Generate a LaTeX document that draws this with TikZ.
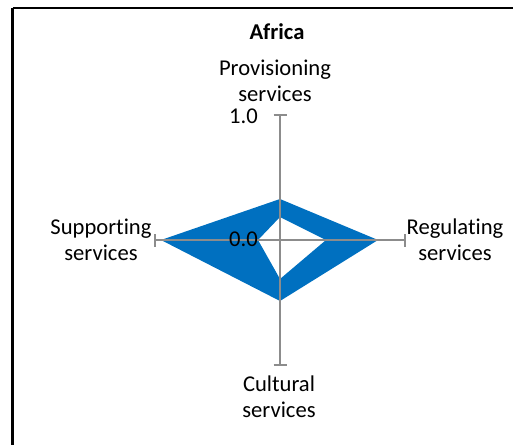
\documentclass[tikz,border=0pt]{standalone}
\usepackage{fontspec}
\setmainfont[Ligatures=NoCommon]{Carlito}
\definecolor{axisgray}{HTML}{8C8C8C}
\definecolor{seriesblue}{HTML}{0070C0}
\begin{document}
\begin{tikzpicture}[x=1pt,y=-1pt,
  lab/.style={font=\fontsize{22.6}{25.5}\selectfont, align=center, inner sep=0pt},
  axisline/.style={draw=axisgray, line width=1.6pt},
  frameline/.style={draw=black, line width=2.2pt}]
\useasboundingbox (0,0) rectangle (513,444);
\draw[frameline] (12.5,7.8) -- (530,7.8);
\draw[frameline] (12.5,7.8) -- (12.5,460);
% centre and axis ends
\coordinate (c) at (280,240);
\coordinate (pt) at (280,115);
\coordinate (pb) at (280,365);
\coordinate (pl) at (155,240);
\coordinate (pr) at (405,240);
% data series
\fill[seriesblue, even odd rule]
  (280,199) -- (378,240) -- (280,301) -- (161,240) -- cycle
  (280,217) -- (326,240) -- (280,279) -- (258,240) -- cycle;
% axes
\draw[axisline] (pt) -- (pb);
\draw[axisline] (pl) -- (pr);
\draw[axisline] ([xshift=-6.5pt]pt) -- ([xshift=6.5pt]pt);
\draw[axisline] ([xshift=-6.5pt]pb) -- ([xshift=6.5pt]pb);
\draw[axisline] ([yshift=-6.5pt]pl) -- ([yshift=6.5pt]pl);
\draw[axisline] ([yshift=-6.5pt]pr) -- ([yshift=6.5pt]pr);
% labels
\node[lab, font=\fontsize{22.6}{25.5}\selectfont\bfseries, anchor=base] (title) at (277,40) {Africa};
\node[lab, anchor=base] (prov) at (275,101) {Provisioning\\services};
\node[lab, anchor=base] (supp) at (101,260) {Supporting\\services};
\node[lab, anchor=base] (reg) at (455,260) {Regulating\\services};
\node[lab, anchor=base] (cult) at (279,417) {Cultural\\services};
\node[lab, anchor=base east] (one) at (258,123) {1.0};
\node[lab, anchor=base east] (zero) at (258,246.5) {0.0};
\end{tikzpicture}
\end{document}
